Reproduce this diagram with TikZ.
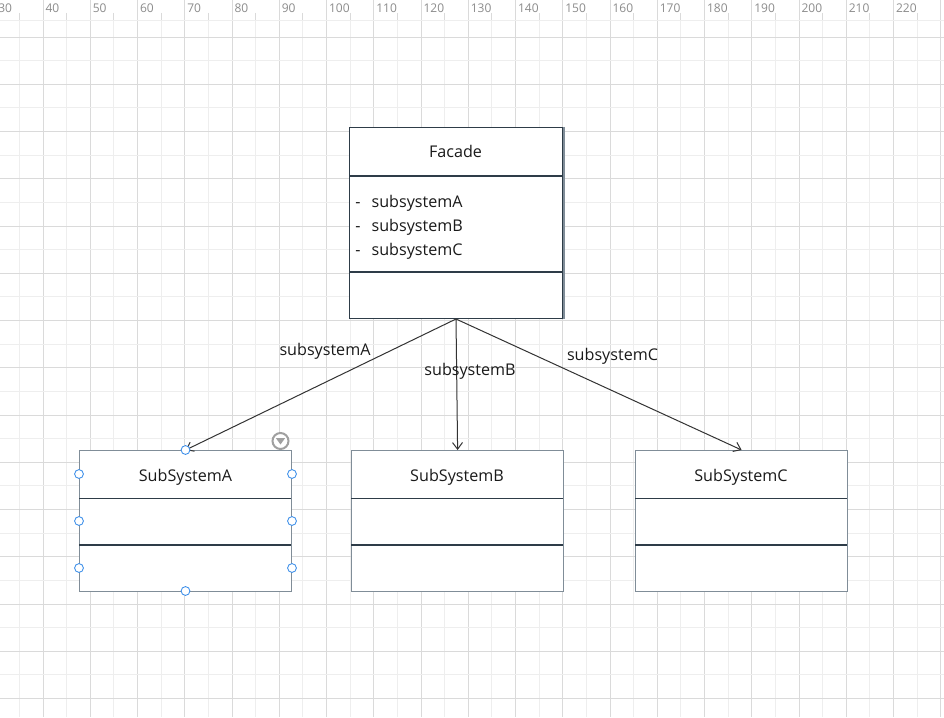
\documentclass[tikz,border=0pt]{standalone}
\usepackage{fontspec}
\setmainfont{Open Sans}
\usetikzlibrary{arrows.meta}
\definecolor{gmaj}{HTML}{DADADA}
\definecolor{gmin}{HTML}{EEEEEE}
\definecolor{rtext}{HTML}{8C8C8C}
\definecolor{edge}{HTML}{2E3C48}
\definecolor{edgelt}{HTML}{808D98}
\definecolor{handle}{HTML}{3B8EEA}
\definecolor{ink}{HTML}{1A1A1A}
\definecolor{wire}{HTML}{333333}
\definecolor{ddgray}{HTML}{A0A0A0}
\tikzset{
  lbl/.style={inner sep=0pt, text=ink, font=\fontsize{12.1}{14}\selectfont},
  rlbl/.style={inner sep=0pt, anchor=north west, text=rtext, font=\fontsize{9}{10}\selectfont},
  facadebox/.style={draw=edge, line width=0.75pt, fill=white, inner sep=0pt, anchor=north west},
  subbox/.style={draw=edgelt, line width=0.9pt, fill=white, inner sep=0pt, anchor=north west,
                 minimum width=159pt, minimum height=105.75pt},
  sep/.style={draw=edge, line width=0.9pt},
  wirearrow/.style={draw=wire, line width=0.75pt, -{Straight Barb[length=5pt,width=7.5pt]}},
  handlept/.style={circle, draw=handle, fill=white, line width=0.65pt, inner sep=0pt, minimum size=6.6pt},
}
\begin{document}
\begin{tikzpicture}[x=0.75pt,y=-0.75pt]
\useasboundingbox (0,0) rectangle (944,717);
\clip (0,0) rectangle (944,717);
\fill[white] (0,0) rectangle (944,717);
% grid vertical
\foreach \k in {-1,...,38}{
  \pgfmathsetmacro\xx{43.1+23.625*\k}
  \ifodd\k\relax
    \draw[gmin, line width=0.75pt] (\xx,21) -- (\xx,717);
    \draw[gmaj, line width=0.75pt] (\xx,13) -- (\xx,21);
  \else
    \draw[gmaj, line width=0.75pt] (\xx,0) -- (\xx,717);
  \fi
}
% grid horizontal
\foreach \k in {0,...,29}{
  \pgfmathsetmacro\yy{37.05+23.625*\k}
  \ifodd\k\relax
    \draw[gmin, line width=0.75pt] (0,\yy) -- (944,\yy);
  \else
    \draw[gmaj, line width=0.75pt] (0,\yy) -- (944,\yy);
  \fi
}
\draw[gmin, line width=0.75pt] (0,21) -- (944,21);
% ruler labels
\foreach \m in {-1,...,18}{
  \pgfmathsetmacro\xx{43.1+47.25*\m+2.2}
  \pgfmathtruncatemacro\v{40+10*\m}
  \node[rlbl] (r\m) at (\xx,4) {\v};
}
% Facade class
\node[facadebox, minimum width=159.75pt, minimum height=143.25pt] (facade) at (349,127) {};
\draw[edgelt, line width=1.5pt] ([xshift=0.4pt]facade.north east) -- ([xshift=0.4pt]facade.south east);
\draw[sep] (349,176) -- (562,176);
\draw[sep] (349,272) -- (562,272);
\node[lbl, anchor=base] (ftitle) at (455.5,157.3) {Facade};
\node[lbl, anchor=base west] (fd1) at (355,207.3) {-};
\node[lbl, anchor=base west] (fa1) at (371.3,207.3) {subsystemA};
\node[lbl, anchor=base west] (fd2) at (355,231.3) {-};
\node[lbl, anchor=base west] (fa2) at (371.3,231.3) {subsystemB};
\node[lbl, anchor=base west] (fd3) at (355,255.3) {-};
\node[lbl, anchor=base west] (fa3) at (371.3,255.3) {subsystemC};
% Subsystem classes
\node[subbox] (suba) at (79,450) {};
\node[subbox] (subb) at (351,450) {};
\node[subbox] (subc) at (635,450) {};
\foreach \x in {79,351,635}{
  \draw[sep] (\x,498.7) -- (\x+212,498.7);
  \draw[sep] (\x,545) -- (\x+212,545);
}
\node[lbl, anchor=base] (ta) at (185.5,481.7) {SubSystemA};
\node[lbl, anchor=base] (tb) at (457,481.7) {SubSystemB};
\node[lbl, anchor=base] (tc) at (741,481.7) {SubSystemC};
% connectors
\draw[wirearrow] (facade.south) -- (suba.north);
\draw[wirearrow] (facade.south) -- (subb.north);
\draw[wirearrow] (facade.south) -- (subc.north);
\node[lbl, anchor=base] (la) at (325,355) {subsystemA};
\node[lbl, anchor=base] (lb) at (470,375) {subsystemB};
\node[lbl, anchor=base] (lc) at (612.5,360) {subsystemC};
% selection handles
\node[handlept] (h1) at (185.5,450) {};
\node[handlept] (h2) at (79,474) {};
\node[handlept] (h3) at (292,474) {};
\node[handlept] (h4) at (79,521) {};
\node[handlept] (h5) at (292,521) {};
\node[handlept] (h6) at (79,568) {};
\node[handlept] (h7) at (292,568) {};
\node[handlept] (h8) at (185.5,591) {};
% dropdown icon
\node[circle, draw=ddgray, line width=1.5pt, fill=white, inner sep=0pt, minimum size=12pt] (dd) at (280.5,441) {};
\fill[ddgray] (275.8,438) -- (285.2,438) -- (280.5,444.5) -- cycle;
\end{tikzpicture}
\end{document}
